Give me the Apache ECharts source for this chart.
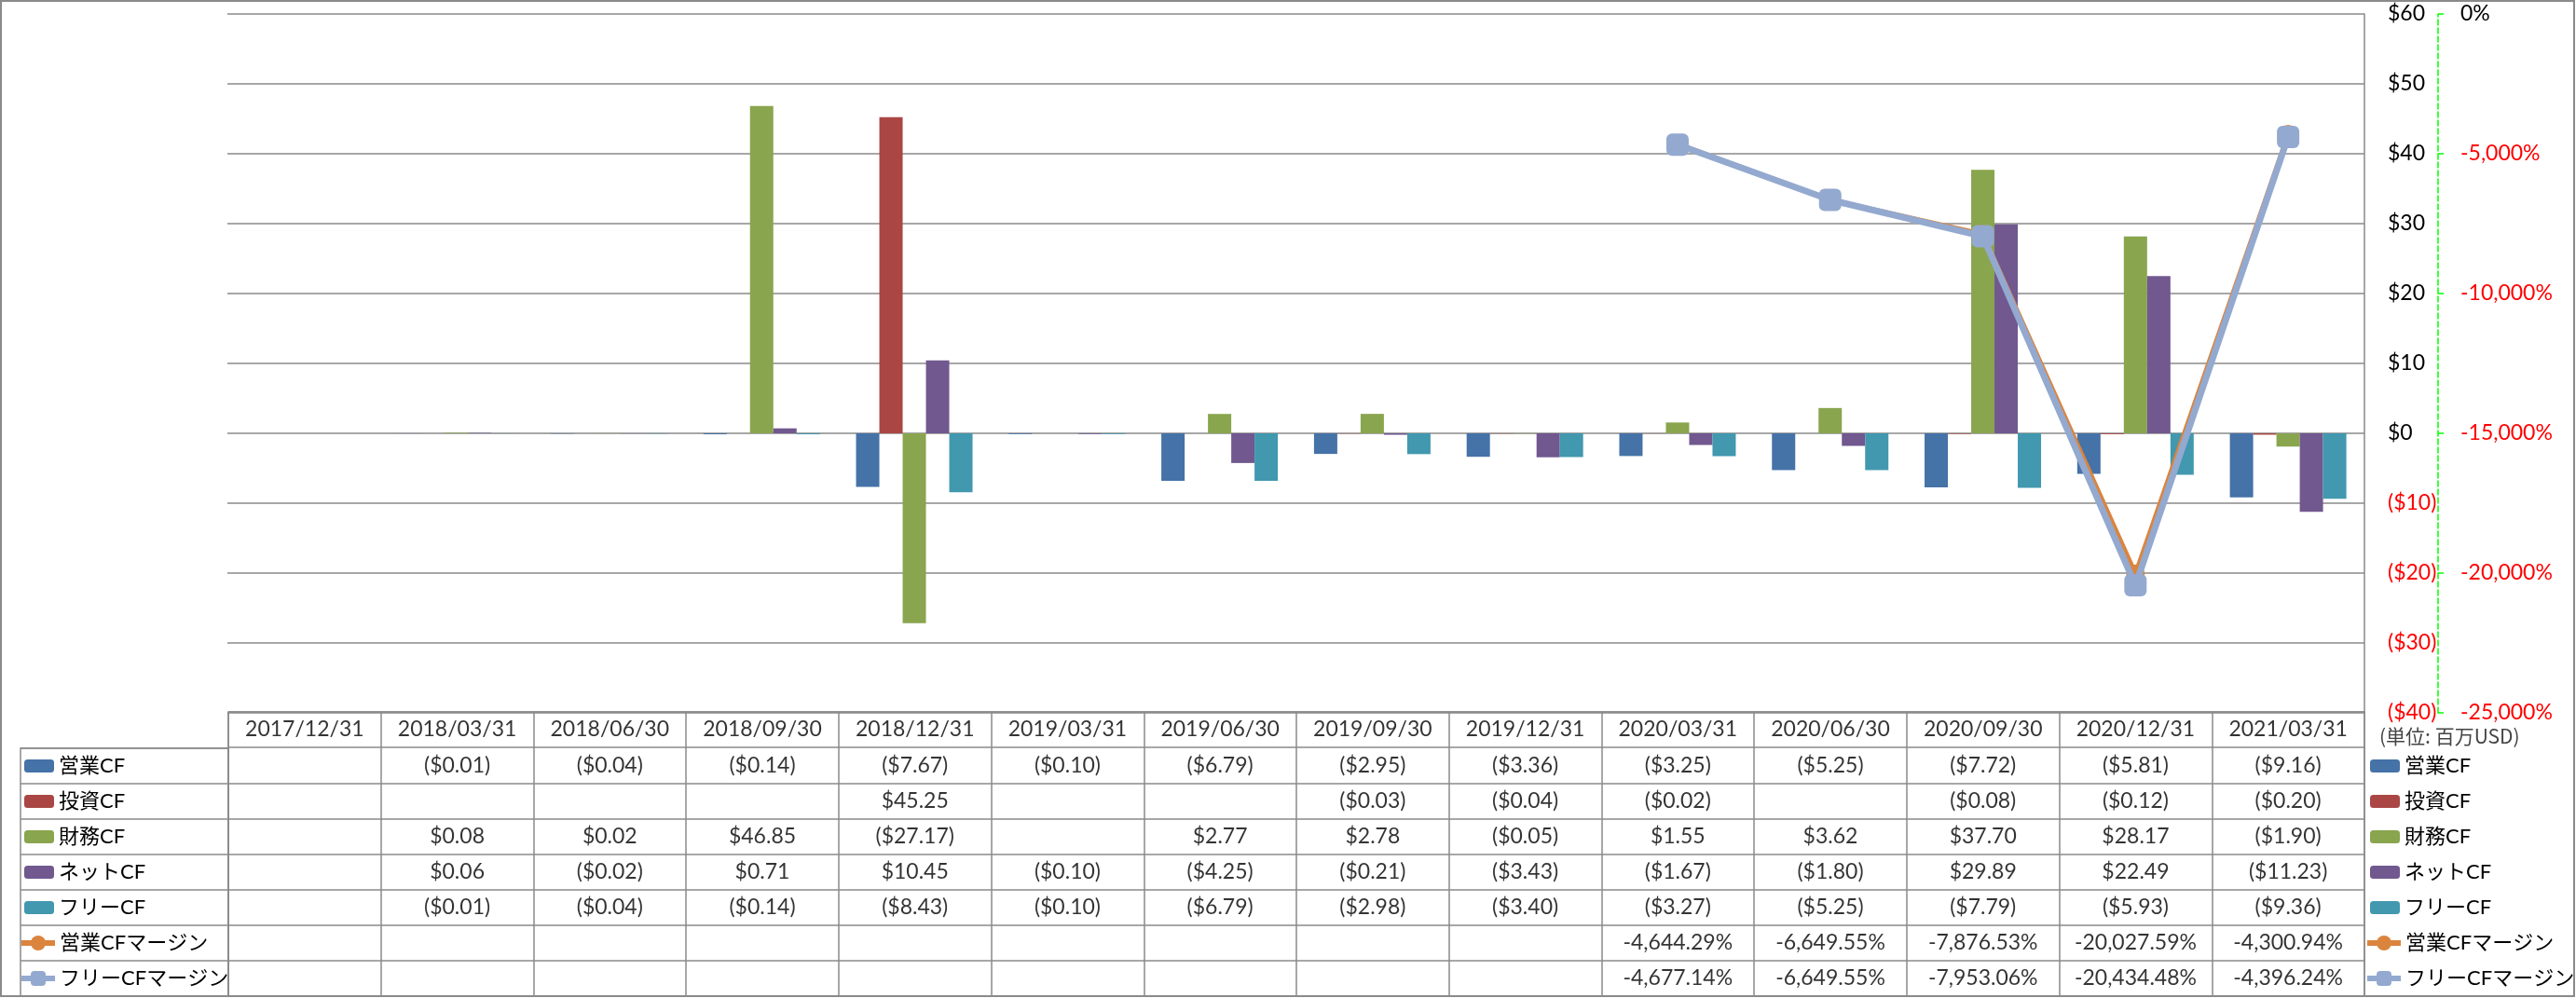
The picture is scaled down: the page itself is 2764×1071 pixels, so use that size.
<!DOCTYPE html>
<html>
<head>
<meta charset="utf-8">
<script src="https://cdn.jsdelivr.net/npm/echarts@6.0.0/dist/echarts.min.js"></script>
<style>
  html, body { margin: 0; padding: 0; background: #fff; }
  #main { width: 2764px; height: 1071px; }
</style>
</head>
<body>
<div id="main"></div>
<script>
// データ（単位：百万USD）
const categories = ['2017/12/31', '2018/03/31', '2018/06/30', '2018/09/30', '2018/12/31', '2019/03/31', '2019/06/30',
  '2019/09/30', '2019/12/31', '2020/03/31', '2020/06/30', '2020/09/30', '2020/12/31', '2021/03/31']

const eigyoCF = [null, -0.01, -0.04, -0.14, -7.67, -0.10, -6.79, -2.95, -3.36, -3.25, -5.25, -7.72, -5.81, -9.16]
const toushiCF = [null, null, null, null, 45.25, null, null, -0.03, -0.04, -0.02, null, -0.08, -0.12, -0.20]
const zaimuCF = [null, 0.08, 0.02, 46.85, -27.17, null, 2.77, 2.78, -0.05, 1.55, 3.62, 37.70, 28.17, -1.90]
const netCF = [null, 0.06, -0.02, 0.71, 10.45, -0.10, -4.25, -0.21, -3.43, -1.67, -1.80, 29.89, 22.49, -11.23]
const freeCF = [null, -0.01, -0.04, -0.14, -8.43, -0.10, -6.79, -2.98, -3.40, -3.27, -5.25, -7.79, -5.93, -9.36]
const eigyoMargin = [null, null, null, null, null, null, null, null, null, -4644.29, -6649.55, -7876.53, -20027.59, -4300.94]
const freeMargin = [null, null, null, null, null, null, null, null, null, -4677.14, -6649.55, -7953.06, -20434.48, -4396.24]

const barNames = ['営業CF', '投資CF', '財務CF', 'ネットCF', 'フリーCF']
const lineNames = ['営業CFマージン', 'フリーCFマージン']
const seriesNames = barNames.concat(lineNames)
const colors = ['#4572A7', '#AA4643', '#89A54E', '#71588F', '#4198AF', '#DB843D', '#93A9CF']

const font = "Lato, 'Noto Sans CJK JP', sans-serif"
const gridColor = '#8a8a8a'

const money = v => v == null ? '' : (v < 0 ? '($' + (-v).toFixed(2) + ')' : '$' + v.toFixed(2))
const pct = v => v == null ? '' : v.toLocaleString('en-US', { minimumFractionDigits: 2, maximumFractionDigits: 2 }) + '%'

// データテーブルのセル
const rows = [eigyoCF, toushiCF, zaimuCF, netCF, freeCF]
const cells = []
categories.forEach((c, i) => cells.push([i, 0, c]))
rows.forEach((arr, r) => arr.forEach((v, i) => { if (v != null) cells.push([i, r + 1, money(v)]) }))
;[eigyoMargin, freeMargin].forEach((arr, r) => arr.forEach((v, i) => { if (v != null) cells.push([i, r + 6, pct(v)]) }))

const myChart = echarts.init(document.getElementById('main'))

const barSeries = [eigyoCF, toushiCF, zaimuCF, netCF, freeCF].map((d, i) => ({
  name: barNames[i],
  type: 'bar',
  xAxisIndex: 0,
  yAxisIndex: 0,
  data: d,
  barWidth: 25,
  barGap: '0%',
  itemStyle: { color: colors[i] }
}))

const legendText = { fontFamily: font, fontSize: 22, lineHeight: 24, color: '#000' }

// 凡例（左右、棒と線で分ける）
const barLegend = left => ({
  orient: 'vertical', left: left, top: 810, padding: 0,
  itemWidth: 32, itemHeight: 14, itemGap: 14, selectedMode: false,
  textStyle: legendText, data: barNames
})
const lineLegend = left => ({
  orient: 'vertical', left: left, top: 1000, padding: 0,
  itemWidth: 36, itemHeight: 20, itemGap: 14, selectedMode: false,
  textStyle: legendText,
  data: lineNames.map(n => ({ name: n, lineStyle: { width: 6 } }))
})

const option = {
  backgroundColor: '#fff',
  animation: false,
  textStyle: { fontFamily: font },
  title: {
    text: '(単位: 百万USD)',
    left: 2553,
    top: 780,
    padding: 0,
    textStyle: { fontFamily: "'Noto Sans CJK JP', sans-serif", fontSize: 21, fontWeight: 'normal', color: '#444' }
  },
  legend: [barLegend(26), lineLegend(20), barLegend(2543), lineLegend(2537)],
  graphic: [{
    type: 'rect',
    shape: { x: 1, y: 1, width: 2761, height: 1068 },
    style: { fill: null, stroke: gridColor, lineWidth: 2 },
    silent: true
  }],
  grid: [
    { left: 244, right: 227, top: 15, height: 750 },
    { left: 245, right: 227, top: 764, height: 305, show: true, borderColor: gridColor, borderWidth: 1.5 },
    { left: 22, width: 223, top: 803, height: 266, show: true, borderColor: gridColor, borderWidth: 1.5 }
  ],
  xAxis: [
    {
      type: 'category', gridIndex: 0, data: categories, boundaryGap: true,
      axisLine: { show: false }, axisTick: { show: false }, axisLabel: { show: false }, splitLine: { show: false }
    },
    {
      type: 'category', gridIndex: 1, data: categories, boundaryGap: true,
      axisLine: { show: false }, axisTick: { show: false }, axisLabel: { show: false },
      splitLine: { show: true, interval: 0, lineStyle: { color: gridColor, width: 1.5 } }
    },
    { type: 'value', gridIndex: 2, show: false }
  ],
  yAxis: [
    {
      type: 'value', gridIndex: 0, position: 'right', min: -40, max: 60, interval: 10,
      axisLine: { show: true, lineStyle: { color: gridColor, width: 1.5 } },
      axisTick: { show: false },
      axisLabel: {
        margin: 25, fontSize: 23, fontFamily: font, align: 'left',
        formatter: v => v < 0 ? '($' + (-v) + ')' : '$' + v,
        color: v => v < 0 ? '#ff0000' : '#000'
      },
      splitLine: { show: true, lineStyle: { color: gridColor, width: 1.5 } }
    },
    {
      type: 'value', gridIndex: 0, position: 'right', offset: 79, min: -25000, max: 0, interval: 5000,
      axisLine: { show: true, lineStyle: { color: '#00ff00', width: 1.5, type: 'dashed' } },
      axisTick: { show: true, length: 9, lineStyle: { color: '#00ff00', width: 1.5, type: 'dashed' } },
      axisLabel: {
        margin: 24, fontSize: 23, fontFamily: font, align: 'left',
        formatter: v => v.toLocaleString('en-US') + '%',
        color: v => v < 0 ? '#ff0000' : '#000'
      },
      splitLine: { show: false }
    },
    {
      type: 'category', gridIndex: 1, inverse: true, data: ['h', 'r1', 'r2', 'r3', 'r4', 'r5', 'r6', 'r7'],
      axisLine: { show: false }, axisTick: { show: false }, axisLabel: { show: false },
      splitLine: { show: true, interval: 0, lineStyle: { color: gridColor, width: 1.5 } }
    },
    {
      type: 'category', gridIndex: 2, inverse: true, data: seriesNames,
      axisLine: { show: false }, axisTick: { show: false }, axisLabel: { show: false },
      splitLine: { show: true, interval: 0, lineStyle: { color: gridColor, width: 1.5 } }
    }
  ],
  series: barSeries.concat([
    {
      name: '営業CFマージン',
      type: 'line',
      yAxisIndex: 1,
      data: eigyoMargin,
      symbol: 'circle',
      symbolSize: 20,
      lineStyle: { color: colors[5], width: 5 },
      itemStyle: { color: colors[5] },
      z: 3
    },
    {
      name: 'フリーCFマージン',
      type: 'line',
      yAxisIndex: 1,
      data: freeMargin,
      symbol: 'roundRect',
      symbolSize: 24,
      lineStyle: { color: colors[6], width: 7 },
      itemStyle: { color: colors[6] },
      z: 4
    },
    {
      type: 'scatter',
      xAxisIndex: 1,
      yAxisIndex: 2,
      data: cells,
      symbolSize: 1,
      silent: true,
      itemStyle: { color: 'transparent' },
      label: {
        show: true,
        position: 'inside',
        formatter: p => p.data[2],
        fontFamily: font,
        fontSize: 23,
        color: '#000'
      }
    }
  ])
}

myChart.setOption(option)
</script>
</body>
</html>
